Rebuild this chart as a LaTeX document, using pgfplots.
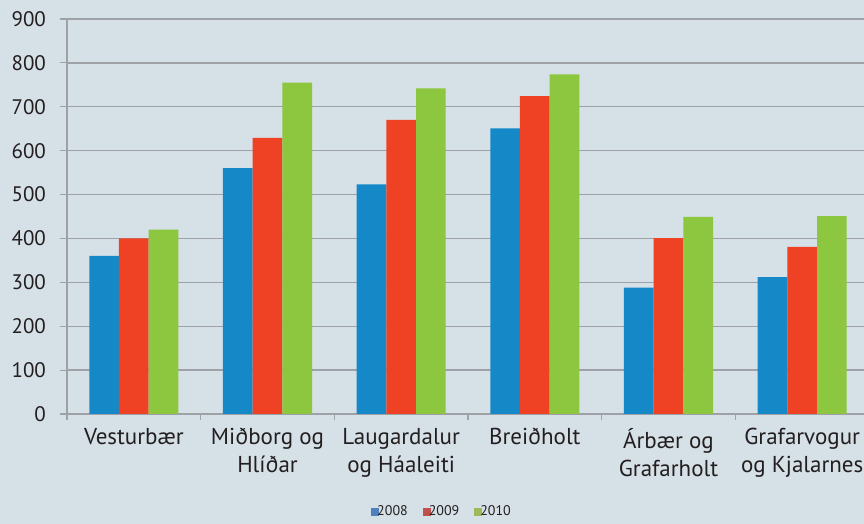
\documentclass[border=0pt]{standalone}
\usepackage{pgfplots}
\pgfplotsset{compat=1.18}
\usepackage{fontspec}
\setmainfont{PT Sans}
\definecolor{bg}{RGB}{214,224,231}
\definecolor{gridgray}{RGB}{158,161,165}
\definecolor{cblue}{RGB}{21,137,200}
\definecolor{cred}{RGB}{239,65,35}
\definecolor{cgreen}{RGB}{141,198,63}
\definecolor{lblue}{RGB}{79,129,189}
\definecolor{lred}{RGB}{192,80,77}
\definecolor{lgreen}{RGB}{155,187,89}
\definecolor{txt}{RGB}{35,31,32}
\begin{document}
\begin{tikzpicture}
\path[use as bounding box, fill=bg] (-33.5pt,-55pt) rectangle (398.5pt,207pt);
\begin{axis}[
  at={(0pt,0pt)}, anchor=south west,
  scale only axis, width=398.5pt, height=197.5pt,
  xmin=-0.5, xmax=5.4626, ymin=0, ymax=900,
  axis x line*=bottom, axis y line*=left,
  axis line style={-, draw=gridgray, line width=0.6pt},
  ymajorgrids, grid style={gridgray, line width=0.7pt},
  ytick={0,100,...,900},
  xtick={0,1,2,3,4,5},
  xticklabels={Vesturbær, {Miðborg og\\Hlíðar}, {Laugardalur\\og Háaleiti}, Breiðholt, {Árbær og\\Grafarholt}, {Grafarvogur\\og Kjalarnes}},
  minor xtick={-0.5,0.5,1.5,2.5,3.5,4.5},
  major x tick style={draw=none},
  minor tick length=3pt,
  major tick length=3.5pt,
  tick align=outside,
  tick style={gridgray, line width=0.6pt},
  /pgf/number format/assume math mode=true,
  yticklabel style={font=\fontsize{10.5}{12}\selectfont, text=txt, xshift=-3.5pt},
  xticklabel style={font=\fontsize{11.5}{14}\selectfont, text=txt, align=center},
  ybar=0pt, bar width=14.85pt,
  legend style={at={(0.4718,-0.248)}, anchor=center, draw=none, fill=none,
    font=\fontsize{7}{8}\selectfont, text=txt, legend columns=3,
    /tikz/every even column/.append style={column sep=5.5pt},
    /tikz/every odd column/.append style={column sep=-3pt}},
]
\addplot[fill=cblue, draw=none,
  legend image code/.code={\fill[lblue] (0pt,-2pt) rectangle (4pt,2pt);}]
  coordinates {(0,360) (1,560) (2,523) (3,651) (4,288) (5,312)};
\addlegendentry{2008}
\addplot[fill=cred, draw=none,
  legend image code/.code={\fill[lred] (0pt,-2pt) rectangle (4pt,2pt);}]
  coordinates {(0,400) (1,629) (2,670) (3,724) (4,401) (5,381)};
\addlegendentry{2009}
\addplot[fill=cgreen, draw=none,
  legend image code/.code={\fill[lgreen] (0pt,-2pt) rectangle (4pt,2pt);}]
  coordinates {(0,420) (1,755) (2,742) (3,774) (4,449) (5,451)};
\addlegendentry{2010}
\end{axis}
\end{tikzpicture}
\end{document}
